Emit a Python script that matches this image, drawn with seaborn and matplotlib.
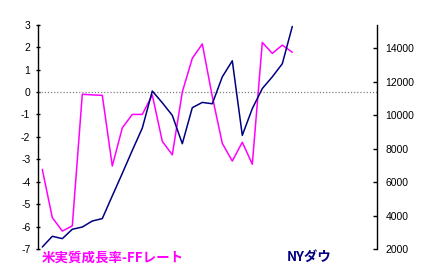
import matplotlib
matplotlib.use("Agg")
import matplotlib.pyplot as plt
import seaborn as sns
import pandas as pd

# Data
idx = list(range(26))
growth_minus_ff = [-3.45, -5.6, -6.2, -5.97, -0.1, -0.13, -0.15, -3.3, -1.6, -1.0,
                   -1.0, -0.13, -2.2, -2.8, 0.0, 1.5, 2.14, -0.2, -2.29, -3.08,
                   -2.24, -3.22, 2.21, 1.72, 2.09, 1.77]
ny_dow = [2120, 2760, 2620, 3180, 3315, 3675, 3820, 5180, 6525, 7900,
          9235, 11450, 10750, 9995, 8300, 10455, 10770, 10690, 12300, 13260,
          8800, 10400, 11600, 12300, 13085, 15315]
left_ticks = [3, 2, 1, 0, -1, -2, -3, -4, -5, -6, -7]
right_ticks = [2000, 4000, 6000, 8000, 10000, 12000, 14000]
label_left = "米実質成長率-FFレート"
label_right = "NYダウ"

sns.set_theme(style="white")
plt.rcParams['font.family'] = ['Liberation Sans', 'Noto Sans CJK JP', 'DejaVu Sans']
plt.rcParams['axes.unicode_minus'] = False

df = pd.DataFrame({"i": idx, "g": growth_minus_ff, "d": ny_dow})

fig = plt.figure(figsize=(4.32, 2.73), dpi=100)
ax = fig.add_axes([38/432, 1-249/273, (377-38)/432, (249-24.7)/273])
ax.set_facecolor("white")
ax.axhline(0, color="#808080", linestyle=(0, (1, 1.5)), linewidth=0.9, zorder=1)
sns.lineplot(data=df, x="i", y="g", ax=ax, color="#FF00FF", linewidth=1.1, zorder=3)
ax.set_ylim(-7, 3)
ax.set_xlim(-0.43, 33.47)
ax.set_yticks(left_ticks)
ax.set_yticklabels([str(t) for t in left_ticks], fontsize=7.5)
ax.set_xticks([])
ax.set_xlabel("")
ax.set_ylabel("")

ax2 = ax.twinx()
sns.lineplot(data=df, x="i", y="d", ax=ax2, color="#000080", linewidth=1.1, zorder=2)
ax2.set_ylim(2000, 15420)
ax2.set_yticks(right_ticks)
ax2.set_yticklabels([str(t) for t in right_ticks], fontsize=7.5)
ax2.set_ylabel("")
ax2.set_xlim(-0.43, 33.47)

for a in (ax, ax2):
    for s in ("top", "bottom"):
        a.spines[s].set_visible(False)
ax.spines["left"].set_color("black")
ax.spines["left"].set_linewidth(1.0)
ax.spines["right"].set_visible(False)
ax2.spines["left"].set_visible(False)
ax2.spines["right"].set_color("black")
ax2.spines["right"].set_linewidth(1.0)
ax.tick_params(axis="y", left=True, length=3, width=1, direction="inout", pad=4, colors="black")
ax2.tick_params(axis="y", right=True, length=3, width=1, direction="in", pad=6, colors="black")

fig.text(42/432, 1-258/273, label_left, color="#FF00FF", fontsize=9.7, fontweight="bold",
         va="center", ha="left", family=['Noto Sans CJK JP', 'DejaVu Sans'])
fig.text(287/432, 1-257/273, label_right, color="#000080", fontsize=9.7, fontweight="bold",
         va="center", ha="left", family=['Noto Sans CJK JP', 'DejaVu Sans'])

fig.savefig("out.png", dpi=100, facecolor="white")
